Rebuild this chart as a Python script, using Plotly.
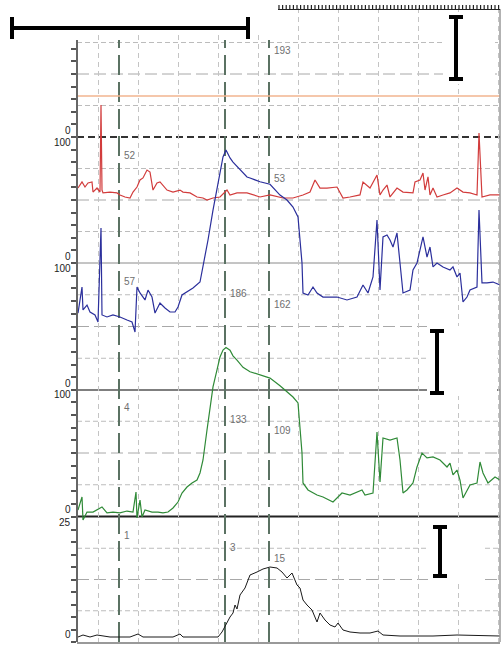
import plotly.graph_objects as go

# ---- data (time in s) ----
red_t = [5.0, 6.0, 6.75, 7.5, 8.5, 8.75, 9.75, 10.5, 10.75, 11.0, 11.25, 13.0, 14.75, 15.5, 16.75, 18.0,
         18.75, 19.75, 20.5, 21.25, 22.25, 23.0, 23.75, 24.75, 25.5, 26.25, 27.25, 28.75, 30.5, 31.25,
         33.0, 34.75, 36.25, 37.25, 38.75, 40.5, 42.25, 43.0, 44.75, 47.25, 50.5, 53.0, 56.25, 58.75,
         61.25, 63.0, 64.25, 65.5, 67.25, 69.75, 71.25, 73.0, 75.5, 76.25, 78.0, 79.75, 80.5, 81.25,
         82.25, 83.0, 84.75, 86.25, 88.75, 89.25, 90.5, 91.25, 91.75, 92.5, 93.0, 93.75, 94.75, 96.25,
         98.0, 99.75, 101.25, 103.0, 104.75, 105.25, 106.0, 108.0, 110.5]
red_v = [59.5, 64.3, 60.3, 63.5, 64.3, 56.3, 59.5, 56.3, 125.4, 57.9, 55.6, 56.3, 55.6, 54.0, 52.4, 51.6,
         56.3, 60.3, 65.9, 67.5, 73.8, 72.2, 57.9, 63.5, 64.3, 61.9, 57.9, 56.3, 57.9, 56.3,
         55.6, 52.4, 51.6, 50.0, 51.6, 52.4, 57.9, 54.0, 55.6, 55.6, 52.4, 54.0, 51.6, 51.6,
         54.0, 56.3, 65.9, 59.5, 59.5, 60.3, 51.6, 52.4, 54.0, 64.3, 59.5, 69.8, 54.0, 57.9,
         61.9, 52.4, 59.5, 56.3, 55.6, 64.3, 65.9, 71.4, 57.9, 68.3, 54.0, 59.5, 52.4, 54.0,
         55.6, 59.5, 56.3, 55.6, 54.0, 103.2, 52.4, 54.0, 54.0]

blue_t = [5.0, 6.0, 6.25, 7.25, 8.0, 9.25, 10.0, 10.75, 11.0, 12.25, 13.75, 15.5, 17.25, 18.5, 19.25,
          19.75, 20.5, 21.75, 22.5, 23.5, 24.25, 25.5, 26.75, 28.0, 29.25, 30.0, 31.0, 32.25, 33.75,
          35.5, 36.25, 37.5, 38.75, 40.0, 41.25, 42.0, 43.0, 43.75, 45.5, 47.25, 48.0, 50.5, 53.0,
          55.5, 57.25, 58.75, 60.0, 61.0, 61.25, 62.5, 63.75, 64.75, 66.25, 69.75, 72.25, 74.75,
          76.25, 77.5, 78.75, 79.75, 80.5, 81.25, 82.25, 83.0, 83.75, 84.75, 85.5, 86.25, 88.0,
          88.75, 89.75, 90.5, 91.25, 92.25, 93.0, 93.75, 94.75, 96.25, 98.0, 98.75, 99.75, 100.5,
          101.25, 102.25, 103.0, 104.75, 105.25, 106.0, 107.25, 108.75, 110.5]
blue_v = [60.6, 81.1, 63.0, 66.9, 61.4, 59.1, 53.5, 127.6, 59.1, 57.5, 59.1, 57.5, 55.1, 53.5, 45.7,
          81.1, 76.4, 70.9, 78.7, 73.2, 60.6, 68.5, 64.6, 61.4, 61.4, 65.4, 74.8, 77.2, 80.3,
          85.0, 96.9, 118.1, 141.7, 163.0, 183.5, 189.0, 182.7, 179.5, 173.2, 167.7, 166.9, 164.0, 162.0,
          153.5, 149.6, 144.1, 136.2, 100.0, 76.4, 74.8, 81.1, 76.4, 73.2, 73.2, 70.9, 73.2,
          82.7, 76.4, 89.0, 133.9, 78.7, 120.5, 122.0, 118.1, 112.6, 123.6, 100.0, 76.4, 78.7,
          94.5, 100.0, 110.2, 120.5, 104.7, 112.6, 96.9, 100.0, 96.9, 94.5, 96.9, 89.0, 92.1,
          69.3, 73.2, 78.7, 81.1, 141.7, 84.3, 84.3, 85.0, 82.7]

green_t = [5.0, 6.0, 6.25, 7.25, 8.75, 11.0, 12.25, 13.75, 15.5, 17.25, 18.75, 19.5, 19.75, 20.5, 21.0,
           21.75, 23.5, 25.0, 26.25, 27.5, 28.75, 30.0, 31.0, 32.25, 33.5, 34.75, 35.5, 36.25, 37.25,
           38.0, 38.75, 39.75, 40.5, 41.25, 42.0, 43.0, 43.75, 44.75, 46.25, 48.0, 50.5, 53.0, 55.5,
           57.25, 58.75, 60.0, 61.0, 61.25, 62.5, 64.75, 66.25, 68.75, 71.0, 73.0, 76.0, 76.75, 78.75,
           79.75, 80.5, 81.25, 83.0, 84.75, 85.5, 86.25, 87.25, 88.75, 89.75, 91.0, 92.25, 93.75,
           95.5, 97.25, 98.0, 98.75, 99.75, 100.5, 101.25, 103.0, 104.75, 105.5, 106.25, 107.5,
           109.25, 110.5]
green_v = [5.1, 15.4, -2.8, 3.5, 3.5, 7.5, 2.8, 3.5, 2.8, 4.3, 3.5, 19.3, -1.2, 13.0, -0.4,
           5.1, 3.5, 3.5, 2.8, 3.5, 6.7, 11.4, 18.5, 23.2, 26.4, 28.7, 34.3, 44.5, 68.1,
           83.9, 102.0, 115.4, 125.6, 131.0, 133.0, 131.0, 126.5, 123.2, 117.5, 114.0, 111.4, 109.0, 103.0,
           98.0, 94.1, 89.4, 50.0, 26.4, 20.9, 16.9, 15.4, 11.4, 18.5, 16.9, 20.9, 16.9, 18.5,
           66.5, 27.2, 61.8, 60.2, 61.8, 44.5, 18.5, 20.9, 26.4, 39.0, 50.0, 46.1, 46.9,
           44.5, 39.0, 42.1, 32.7, 36.6, 28.7, 14.6, 24.8, 26.4, 42.9, 34.3, 26.4,
           31.1, 28.7]

black_t = [5.0, 6.25, 8.0, 9.75, 13.0, 15.5, 18.0, 20.0, 21.25, 24.75, 28.75, 30.5, 31.25, 35.5, 40.0,
           41.0, 42.25, 43.0, 43.75, 44.25, 44.75, 45.5, 46.75, 48.0, 49.75, 51.25, 53.0, 54.75, 56.0,
           57.25, 58.5, 59.75, 60.5, 61.25, 62.25, 63.5, 64.75, 65.5, 66.75, 68.0, 69.25, 70.0, 71.25,
           73.0, 75.5, 78.0, 80.0, 81.25, 85.5, 93.75, 99.75, 106.25, 110.5]
black_v = [1.0, 1.4, 1.0, 1.4, 1.0, 1.0, 1.0, 1.6, 1.0, 1.0, 1.0, 1.6, 1.0, 1.0, 1.0,
           2.0, 4.0, 5.0, 5.8, 7.4, 6.6, 9.4, 10.8, 13.4, 14.0, 14.6, 15.0, 14.8, 14.0,
           12.8, 13.8, 11.4, 10.8, 8.4, 7.4, 6.4, 4.0, 5.8, 4.4, 3.4, 3.0, 3.8, 2.4,
           2.0, 1.8, 1.8, 2.2, 1.4, 1.2, 1.2, 1.4, 1.2, 1.2]

orange_t = [5.0, 110.5]
orange_v = [32.5, 32.5]

marker_times = [15.25, 41.75, 52.75]
top_marks = ["", "", "193"]
red_marks = ["52", "", "53"]
blue_marks = ["57", "186", "162"]
green_marks = ["4", "133", "109"]
black_marks = ["1", "3", "15"]

# ---- page geometry (coordinates below are in window pixels) ----
W, H = 504, 645
L, R, T, B = 77, 500, 8, 642
FONT = "Liberation Sans, Arial, sans-serif"


def px(x):
    return (x - L) / (R - L)


def py(y):
    return (B - y) / (B - T)


def yrange(zero, scale):
    return [-(B - zero) / scale, (zero - T) / scale]


# axis name, pixel row of zero, px per unit, full scale, tick step
chans = [
    ("y", 137, 1.26, 100, 10),
    ("y2", 263, 1.26, 100, 10),
    ("y3", 390, 1.27, 100, 10),
    ("y4", 516.5, 1.27, 100, 10),
    ("y5", 642, 5.0, 25, 2.5),
]

fig = go.Figure()
fig.add_trace(go.Scatter(x=red_t, y=red_v, yaxis="y2", mode="lines",
                         line=dict(color="#d23c3c", width=1.2), showlegend=False))
fig.add_trace(go.Scatter(x=blue_t, y=blue_v, yaxis="y3", mode="lines",
                         line=dict(color="#2b2f9c", width=1.2), showlegend=False))
fig.add_trace(go.Scatter(x=green_t, y=green_v, yaxis="y4", mode="lines",
                         line=dict(color="#2f8a37", width=1.2), showlegend=False))
fig.add_trace(go.Scatter(x=black_t, y=black_v, yaxis="y5", mode="lines",
                         line=dict(color="#1a1a1a", width=1), showlegend=False))
fig.add_trace(go.Scatter(x=orange_t, y=orange_v, yaxis="y", mode="lines",
                         line=dict(color="#f2b58f", width=1.5), showlegend=False))

layout = dict(
    width=W, height=H,
    margin=dict(l=L, r=W - R, t=T, b=H - B, autoexpand=False),
    paper_bgcolor="white", plot_bgcolor="white",
    font=dict(family=FONT, size=10, color="#333"),
    xaxis=dict(range=[(L - 58) / 4, (R - 58) / 4], showgrid=True, tick0=0, dtick=10,
               gridcolor="#c4c4c4", griddash="5px,4px", gridwidth=1, automargin=False,
               showticklabels=False, ticks="", zeroline=False,
               showline=True, linecolor="#999", linewidth=2),
)
for name, zero, scale, full, step in chans:
    key = "yaxis" if name == "y" else "yaxis" + name[1:]
    n = 7 if name == "y" else int(round(full / step))
    ax = dict(range=yrange(zero, scale), domain=[0, 1], showgrid=False, zeroline=False,
              showticklabels=False, showline=False, ticks="outside", ticklen=5, automargin=False,
              tickcolor="#555", tickwidth=1.5, tickvals=[k * step for k in range(n + 1)])
    if name != "y":
        ax["overlaying"] = "y"
    layout[key] = ax
fig.update_layout(**layout)

shapes = []
# horizontal grid inside each panel
for name, zero, scale, full, step in chans:
    for frac, dash, col in [(0.25, "5px,3px", "#bcbcbc"), (0.5, "12px,5px", "#a8a8a8"),
                            (0.75, "5px,3px", "#bcbcbc")]:
        shapes.append(dict(type="line", xref="paper", x0=0, x1=1, yref=name,
                           y0=full * frac, y1=full * frac, layer="between",
                           line=dict(color=col, width=1, dash=dash)))
# panel boundaries
bounds = [("y", "#333", 2, "7px,4px"), ("y2", "#8a8a8a", 1, "solid"),
          ("y3", "#555", 1.5, "solid"), ("y4", "#222", 2, "solid")]
for name, col, wd, dash in bounds:
    shapes.append(dict(type="line", xref="paper", x0=0, x1=1, yref=name, y0=0, y1=0,
                       layer="between", line=dict(color=col, width=wd, dash=dash)))
# event markers
for t in marker_times:
    shapes.append(dict(type="line", xref="x", x0=t, x1=t, yref="paper", y0=0, y1=py(40),
                       layer="between", line=dict(color="#5b7263", width=2, dash="20px,7px")))
# left axis line and right border
shapes.append(dict(type="line", xref="paper", yref="paper", x0=0, x1=0, y0=0, y1=py(40),
                   line=dict(color="#666", width=2)))
shapes.append(dict(type="line", xref="paper", yref="paper", x0=1, x1=1, y0=0, y1=py(9),
                   line=dict(color="#999", width=1.5)))
# white patches behind the scale bars
for x0, y0, x1, y1 in [(px(78), py(6), px(278), py(34)), (px(443), py(12), px(495), py(84)),
                       (px(427), py(326), px(497), py(396)), (px(428), py(521), px(482), py(580))]:
    shapes.append(dict(type="rect", xref="paper", yref="paper", x0=x0, x1=x1, y0=y0, y1=y1,
                       fillcolor="white", line=dict(width=0), layer="above"))

# ruler along the top right edge
ruler = "M %.4f %.4f L %.4f %.4f" % (px(278), py(9.5), px(500), py(9.5))
xr = 279.0
while xr <= 500:
    ruler += " M %.4f %.4f L %.4f %.4f" % (px(xr), py(9.5), px(xr), py(5))
    xr += 3.6
shapes.append(dict(type="path", xref="paper", yref="paper", path=ruler,
                   line=dict(color="#222", width=1.2), layer="above"))


def bar(x0, y0, x1, y1):
    return dict(type="line", xref="paper", yref="paper", x0=px(x0), x1=px(x1),
                y0=py(y0), y1=py(y1), line=dict(color="black", width=4), layer="above")


# horizontal scale bar (top left)
shapes += [bar(12, 28, 248, 28), bar(12, 17, 12, 39), bar(248, 17, 248, 39)]
# vertical scale bars
for xc, ya, yb in [(456, 17, 79), (437, 331, 393), (440, 527, 576)]:
    shapes += [bar(xc, ya, xc, yb), bar(xc - 7, ya, xc + 7, ya), bar(xc - 7, yb, xc + 7, yb)]

annotations = []
# scale labels on the left axis
top_txt = ["", "100", "100", "100", "25"]
for i, (name, zero, scale, full, step) in enumerate(chans):
    annotations.append(dict(text="0", xref="paper", x=0, xanchor="right", xshift=-4,
                            yref=name, y=0, yanchor="middle", yshift=7 if i < 4 else 8,
                            showarrow=False, font=dict(size=10, color="#222")))
    if top_txt[i]:
        annotations.append(dict(text=top_txt[i], xref="paper", x=0, xanchor="right", xshift=-4,
                                yref=name, y=full, yanchor="middle", yshift=-5,
                                showarrow=False, font=dict(size=10, color="#222")))
# marker values
offs = [18, 30, 41]
for j, t in enumerate(marker_times):
    if top_marks[j]:
        annotations.append(dict(text=top_marks[j], xref="x", x=t, xanchor="left", xshift=3,
                                yref="paper", y=1, yanchor="middle", yshift=-42,
                                showarrow=False, font=dict(size=10, color="#707070")))
    for name, full, marks in [("y2", 100, red_marks), ("y3", 100, blue_marks),
                              ("y4", 100, green_marks), ("y5", 25, black_marks)]:
        if marks[j]:
            annotations.append(dict(text=marks[j], xref="x", x=t, xanchor="left", xshift=3,
                                    yref=name, y=full, yanchor="middle", yshift=-offs[j],
                                    showarrow=False, font=dict(size=10, color="#707070")))

fig.update_layout(shapes=shapes, annotations=annotations)
# drop the default page margin so the figure fills the window exactly
fig.write_html("out.html", config={"displayModeBar": False},
               post_script="document.body.style.margin='0';document.body.style.overflow='hidden';")
